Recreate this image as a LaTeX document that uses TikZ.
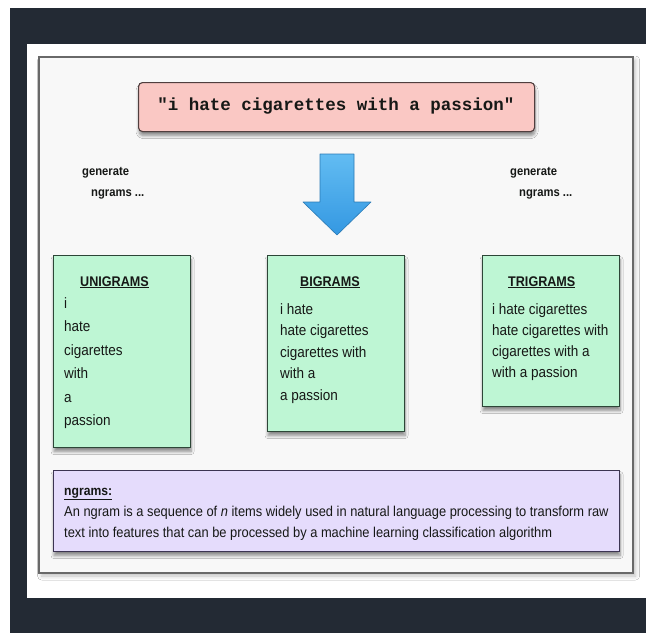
\documentclass[tikz,border=0pt]{standalone}
\usepackage{fontspec}
\setmainfont{Liberation Sans}[FakeStretch=0.9]
\newfontfamily\quotefont{Liberation Mono}
\usetikzlibrary{shadows.blur}

\definecolor{pagedark}{RGB}{35,42,52}
\definecolor{framefill}{RGB}{248,248,248}
\definecolor{frameline}{RGB}{105,105,105}
\definecolor{quotefill}{RGB}{250,200,196}
\definecolor{quoteline}{RGB}{80,62,62}
\definecolor{gramfill}{RGB}{190,246,212}
\definecolor{gramline}{RGB}{45,70,55}
\definecolor{notefill}{RGB}{229,220,252}
\definecolor{noteline}{RGB}{60,52,82}
\definecolor{arrowtop}{RGB}{98,188,242}
\definecolor{arrowbot}{RGB}{52,152,226}
\definecolor{ink}{RGB}{22,24,22}

\tikzset{
  box/.style={draw, line width=1.1pt, inner sep=0pt, anchor=north west,
    blur shadow={shadow xshift=0.5pt, shadow yshift=-4pt, shadow opacity=45,
      shadow blur radius=3pt, shadow blur steps=6}},
  gram/.style={box, fill=gramfill, draw=gramline, minimum width=137pt},
  gramhead/.style={anchor=base west, inner sep=0pt, text=ink,
    font=\bfseries\fontsize{14}{16}\selectfont},
  gramtext/.style={anchor=base west, inner sep=0pt, text=ink,
    font=\fontsize{15}{18}\selectfont},
  hint/.style={anchor=base west, inner sep=0pt, text=ink,
    font=\bfseries\fontsize{12.5}{15}\selectfont},
  notetext/.style={anchor=base west, inner sep=0pt, text=ink,
    font=\fontsize{14.3}{17}\selectfont}
}

\begin{document}
\begin{tikzpicture}[x=1pt,y=-1pt]
  \useasboundingbox (0,0) rectangle (646,633);

  % page and frame
  \fill[white] (0,0) rectangle (646,633);
  \fill[pagedark] (10,8) rectangle (646,633);
  \fill[white] (27,44) rectangle (646,598);
  \draw[frameline, fill=framefill, line width=1.3pt,
    blur shadow={shadow yshift=-3pt, shadow opacity=25, shadow blur radius=4pt}]
    (39,57) rectangle (633,573);

  % sentence
  \node[box, fill=quotefill, draw=quoteline, rounded corners=4pt,
    minimum width=396pt, minimum height=49pt] (quote) at (138,82) {};
  \node[text=ink, font=\quotefont\bfseries\fontsize{17.5}{20}\selectfont]
    (quotetext) at (336,106) {"i hate cigarettes with a passion"};

  % arrow
  \shade[top color=arrowtop, bottom color=arrowbot, draw=arrowbot!80!black,
    line width=0.6pt, line join=round]
    (320,154) -- (354,154) -- (354,202) -- (371,202) -- (337,235)
    -- (303,202) -- (320,202) -- cycle;

  \node[hint] (genleft) at (82,175) {generate};
  \node[hint] (ngrleft) at (91,196) {ngrams ...};
  \node[hint] (genright) at (510,175) {generate};
  \node[hint] (ngrright) at (519,196) {ngrams ...};

  % unigrams
  \node[gram, minimum height=192pt] (unibox) at (53,255) {};
  \node[gramhead] (unihead) at (80,286) {\underline{UNIGRAMS}};
  \node[gramtext] (uni1) at (64,308) {i};
  \node[gramtext] (uni2) at (64,331) {hate};
  \node[gramtext] (uni3) at (64,355) {cigarettes};
  \node[gramtext] (uni4) at (64,378) {with};
  \node[gramtext] (uni5) at (64,402) {a};
  \node[gramtext] (uni6) at (64,425) {passion};

  % bigrams
  \node[gram, minimum height=176pt] (bibox) at (267,255) {};
  \node[gramhead] (bihead) at (300,286) {\underline{BIGRAMS}};
  \node[gramtext] (bi1) at (280,314) {i hate};
  \node[gramtext] (bi2) at (280,335.5) {hate cigarettes};
  \node[gramtext] (bi3) at (280,357) {cigarettes with};
  \node[gramtext] (bi4) at (280,378.5) {with a};
  \node[gramtext] (bi5) at (280,400) {a passion};

  % trigrams
  \node[gram, minimum height=151pt] (tribox) at (482,255) {};
  \node[gramhead] (trihead) at (508,286) {\underline{TRIGRAMS}};
  \node[gramtext] (tri1) at (492,314) {i hate cigarettes};
  \node[gramtext] (tri2) at (492,335) {hate cigarettes with};
  \node[gramtext] (tri3) at (492,356) {cigarettes with a};
  \node[gramtext] (tri4) at (492,377) {with a passion};

  % definition
  \node[box, fill=notefill, draw=noteline, minimum width=566pt,
    minimum height=81pt] (notebox) at (53,470) {};
  \node[notetext, font=\bfseries\fontsize{13.5}{16}\selectfont]
    (notehead) at (64,495) {\underline{ngrams:}};
  \node[notetext] (note1) at (64,516) {An ngram is a sequence of \textit{n} items widely used in natural language processing to transform raw};
  \node[notetext] (note2) at (64,537) {text into features that can be processed by a machine learning classification algorithm};
\end{tikzpicture}
\end{document}
